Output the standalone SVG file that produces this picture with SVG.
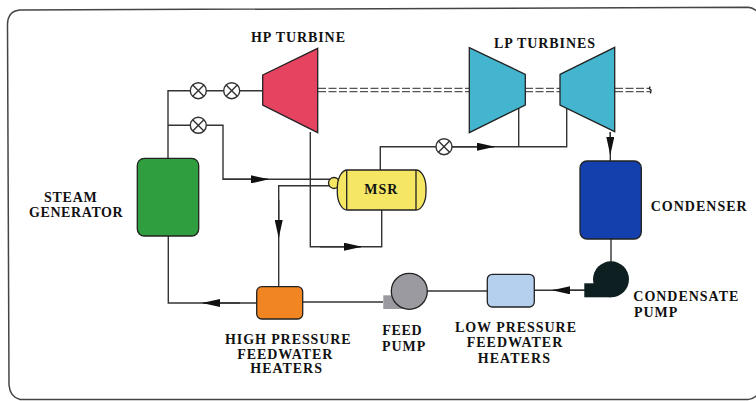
<svg xmlns="http://www.w3.org/2000/svg" width="756" height="401" viewBox="0 0 756 401">
<defs>
<marker id="arr" markerUnits="userSpaceOnUse" markerWidth="18" markerHeight="8" refX="17" refY="4" orient="auto"><path d="M0 0L18 4L0 8Z" fill="#111"/></marker>
<g id="valve"><circle r="8" fill="#fff" stroke="#333" stroke-width="1.4"/><path d="M-5.6-5.6L5.6 5.6M-5.6 5.6L5.6-5.6" stroke="#333" stroke-width="1.4"/></g>
</defs>
<style>
.l{fill:none;stroke:#333;stroke-width:1.4}
.s{fill:none;stroke:#555;stroke-width:1.3;stroke-dasharray:8 2.5}
.t{font-family:"Liberation Serif",serif;font-weight:bold;font-size:14px;fill:#111}
.n{stroke:#222;stroke-width:1.3}
</style>
<rect width="756" height="401" fill="#fff"/>
<path d="M7.5 24Q8 11 20 10L748 7.3Q753 7.5 758 12M7.5 24L9 385Q10 397 20 399.5L748 399.5Q753 399.5 758 394" fill="none" stroke="#444" stroke-width="1.5"/>
<g id="connectors">
<path class="s" d="M318 88.3H469M318 91.7H469M525 88.3H560M525 91.7H560M615 88.3H650M615 91.7H650"/>
<path class="l" d="M168 158V90.7H263"/>
<path class="l" d="M168 125.3H223V179.3H330"/>
<path class="l" d="M223 179.3H268" marker-end="url(#arr)"/>
<path class="l" d="M333 185.7H278.7V287"/>
<path class="l" d="M278.7 200V237" marker-end="url(#arr)"/>
<path class="l" d="M310.3 132V246.7H381.7V210"/>
<path class="l" d="M320 246.7H361" marker-end="url(#arr)"/>
<path class="l" d="M380.3 170V146.7H566.7V105"/>
<path class="l" d="M518.7 146.7V105"/>
<path class="l" d="M452 146.7H494" marker-end="url(#arr)"/>
<path class="l" d="M610.3 132V161"/>
<path class="l" d="M610.3 132V154" marker-end="url(#arr)"/>
<path class="l" d="M611 239V262"/>
<path class="l" d="M585 290.3H534"/>
<path class="l" d="M585 290.3H553" marker-end="url(#arr)"/>
<path class="l" d="M487 291H427"/>
<path class="l" d="M383 302H303"/>
<path class="l" d="M257 303H168.3V236"/>
<path class="l" d="M240 303H203" marker-end="url(#arr)"/>
<path d="M650 86.5L649.5 89L651 90L650.5 93.5" fill="none" stroke="#222" stroke-width="1.4"/>
</g>
<use href="#valve" x="198.3" y="90.7"/>
<use href="#valve" x="231.7" y="90.7"/>
<use href="#valve" x="198.3" y="125.3"/>
<use href="#valve" x="444" y="146.7"/>
<g id="hp-turbine"><path class="n" d="M262.7 75L317.7 48.3V132.7L262.7 105Z" fill="#e5435f"/><text class="t" x="251" y="41.7" textLength="94" lengthAdjust="spacing">HP TURBINE</text></g>
<g id="lp-turbines"><path class="n" d="M469.3 47.7L525.3 74.3V105L469.3 132.7Z" fill="#44b5cf"/><path class="n" d="M560 74.3L614.7 47.3V131.7L560 105Z" fill="#44b5cf"/><text class="t" x="494" y="47.7" textLength="101" lengthAdjust="spacing">LP TURBINES</text></g>
<g id="steam-generator"><rect class="n" x="137.3" y="158.3" width="61.4" height="77.7" rx="7" fill="#2f9e3f"/><text class="t" x="44" y="201.7" textLength="52.7" lengthAdjust="spacing">STEAM</text><text class="t" x="29" y="216.7" textLength="93.7" lengthAdjust="spacing">GENERATOR</text></g>
<g id="msr"><circle class="n" cx="334" cy="183" r="5.5" fill="#f5e663"/><rect class="n" x="337.3" y="170" width="88.7" height="40" rx="10" ry="18" fill="#f5e663"/><path class="n" fill="none" d="M346.7 170V210M416 170V210"/><text class="t" x="364.3" y="194" textLength="33" lengthAdjust="spacing">MSR</text></g>
<g id="condenser"><rect class="n" x="580" y="161" width="61.3" height="78" rx="7" fill="#1440ae"/><text class="t" x="650.7" y="210.7" textLength="96" lengthAdjust="spacing">CONDENSER</text></g>
<g id="condensate-pump"><rect x="584.3" y="283.3" width="27" height="14" fill="#0d1f20"/><circle cx="611" cy="279.3" r="18" fill="#0d1f20"/><text class="t" x="633.3" y="301.3" textLength="105" lengthAdjust="spacing">CONDENSATE</text><text class="t" x="634" y="316.7" textLength="43.3" lengthAdjust="spacing">PUMP</text></g>
<g id="lp-heaters"><rect class="n" x="487.3" y="274.3" width="47" height="32.7" rx="5" fill="#b5d0ee"/><text class="t" x="455" y="332" textLength="121" lengthAdjust="spacing">LOW PRESSURE</text><text class="t" x="466.7" y="347.3" textLength="95.6" lengthAdjust="spacing">FEEDWATER</text><text class="t" x="477.7" y="362.7" textLength="72.3" lengthAdjust="spacing">HEATERS</text></g>
<g id="feed-pump"><rect x="383.3" y="295.3" width="32" height="13.7" fill="#9b9aa0"/><circle class="n" cx="409.3" cy="291.3" r="18" fill="#9b9aa0"/><text class="t" x="382.3" y="335.3" textLength="39.4" lengthAdjust="spacing">FEED</text><text class="t" x="382" y="351" textLength="43.3" lengthAdjust="spacing">PUMP</text></g>
<g id="hp-heaters"><rect class="n" x="256.7" y="286.7" width="46" height="32.3" rx="5" fill="#f08522"/><text class="t" x="225" y="344" textLength="125.7" lengthAdjust="spacing">HIGH PRESSURE</text><text class="t" x="237.3" y="358.7" textLength="95" lengthAdjust="spacing">FEEDWATER</text><text class="t" x="250.3" y="373.3" textLength="71.7" lengthAdjust="spacing">HEATERS</text></g>
</svg>
